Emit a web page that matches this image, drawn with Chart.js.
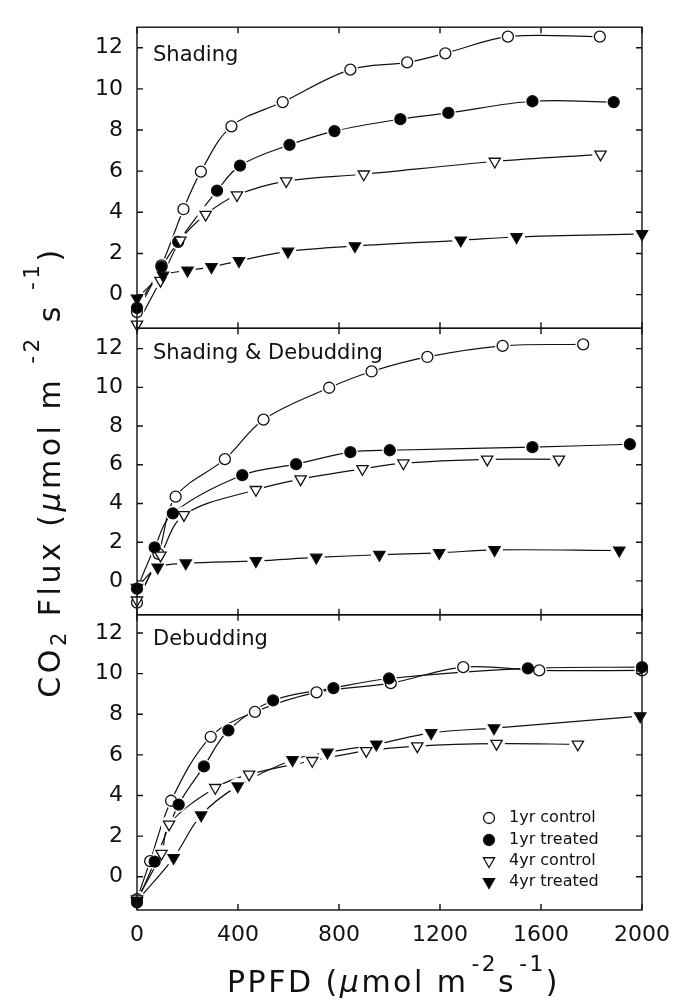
<!DOCTYPE html>
<html lang="en">
<head>
  <meta charset="UTF-8">
  <title>CO2 flux vs PPFD</title>
  <script src="https://cdn.jsdelivr.net/npm/chart.js"></script>
  <style>
    body {
      margin: 0;
      background: #fff;
    }
    .wrap {
      position: relative;
      width: 690px;
      height: 1000px;
    }
    canvas {
      position: absolute;
      left: 0;
      top: 0;
    }
    .title {
      position: absolute;
      font-family: 'DejaVu Sans', sans-serif;
      font-size: 30px;
      line-height: 30px;
      color: #111;
      white-space: nowrap;
      letter-spacing: 2.5px;
    }
    .title sup {
      font-size: 0.72em;
      vertical-align: 0.95em;
      line-height: 0;
    }
    .title sub {
      font-size: 0.7em;
      vertical-align: -0.3em;
      line-height: 0;
    }
    #xtitle {
      left: 227px;
      top: 964px;
    }
    #xtitle sup {
      padding-left: 3px;
    }
    #ytitle {
      left: -253px;
      top: 457px;
      width: 600px;
      height: 30px;
      text-align: center;
      transform: rotate(-90deg);
      letter-spacing: 3.5px;
    }
  </style>
</head>
<body>

  <div class="wrap">
    <canvas id="fluxChart" width="690" height="1000"></canvas>
    <div class="title" id="ytitle">CO<sub>2</sub> Flux (<i>μ</i>mol m <sup>-2</sup> s <sup>-1</sup>)</div>
    <div class="title" id="xtitle">PPFD (<i>μ</i>mol m<sup>-2</sup>s<sup>-1</sup>)</div>
  </div>

  <script>
    // Axis ticks
    const xTicks = [0, 400, 800, 1200, 1600, 2000];
    const yTicks = [0, 2, 4, 6, 8, 10, 12];

    const seriesNames = ['1yr control', '1yr treated', '4yr control', '4yr treated'];
    const panelNames = ['Shading', 'Shading & Debudding', 'Debudding'];

    // Shading
    const sh1cX = [0, 97, 184, 253, 374, 577, 845, 1070, 1221, 1469, 1833];
    const sh1cY = [-0.85, 1.42, 4.15, 5.98, 8.18, 9.36, 10.94, 11.29, 11.73, 12.54, 12.54];
    const sh1tX = [0, 97, 163, 317, 408, 604, 782, 1043, 1233, 1566, 1888];
    const sh1tY = [-0.65, 1.34, 2.56, 5.05, 6.27, 7.28, 7.95, 8.53, 8.83, 9.40, 9.36];
    const sh4cX = [0, 93, 172, 272, 396, 591, 898, 1417, 1836];
    const sh4cY = [-1.45, 0.68, 2.64, 3.89, 4.84, 5.52, 5.85, 6.47, 6.82];
    const sh4tX = [0, 103, 200, 295, 404, 598, 863, 1282, 1503, 2000];
    const sh4tY = [-0.18, 0.93, 1.17, 1.34, 1.64, 2.10, 2.36, 2.64, 2.80, 2.95];

    // Shading & Debudding
    const sd1cX = [0, 85, 153, 348, 501, 761, 929, 1150, 1448, 1767];
    const sd1cY = [-1.12, 1.40, 4.35, 6.29, 8.33, 9.98, 10.82, 11.57, 12.14, 12.22];
    const sd1tX = [0, 70, 142, 417, 630, 845, 1001, 1566, 1952];
    const sd1tY = [-0.40, 1.73, 3.49, 5.46, 6.03, 6.65, 6.75, 6.91, 7.06];
    const sd4cX = [0, 93, 186, 471, 648, 893, 1055, 1387, 1671];
    const sd4cY = [-1.00, 1.32, 3.41, 4.71, 5.26, 5.79, 6.08, 6.28, 6.28];
    const sd4tX = [0, 82, 193, 471, 710, 960, 1197, 1416, 1910];
    const sd4tY = [-0.35, 0.70, 0.91, 1.03, 1.21, 1.35, 1.45, 1.60, 1.57];

    // Debudding
    const db1cX = [0, 52, 135, 292, 467, 711, 1005, 1292, 1593, 2000];
    const db1cY = [-1.11, 0.77, 3.74, 6.89, 8.12, 9.08, 9.53, 10.32, 10.16, 10.16];
    const db1tX = [0, 70, 165, 265, 362, 539, 778, 998, 1548, 2000];
    const db1tY = [-1.27, 0.74, 3.55, 5.43, 7.21, 8.68, 9.29, 9.76, 10.26, 10.32];
    const db4cX = [0, 97, 127, 310, 444, 694, 908, 1110, 1424, 1746];
    const db4cY = [-1.10, 1.14, 2.58, 4.38, 5.04, 5.71, 6.20, 6.43, 6.55, 6.52];
    const db4tX = [0, 145, 254, 399, 616, 754, 948, 1165, 1414, 1993];
    const db4tY = [-1.19, 0.93, 3.03, 4.46, 5.75, 6.12, 6.52, 7.08, 7.32, 7.91];

    const panels = [
      { id: 'yTop', series: [[sh1cX, sh1cY], [sh1tX, sh1tY], [sh4cX, sh4cY], [sh4tX, sh4tY]] },
      { id: 'yMid', series: [[sd1cX, sd1cY], [sd1tX, sd1tY], [sd4cX, sd4cY], [sd4tX, sd4tY]] },
      { id: 'yBot', series: [[db1cX, db1cY], [db1tX, db1tY], [db4cX, db4cY], [db4tX, db4tY]] }
    ];

    // marker look per series
    const markers = [
      { style: 'circle', fill: '#fff', r: 5.5, rot: 0 },
      { style: 'circle', fill: '#000', r: 5.5, rot: 0 },
      { style: 'triangle', fill: '#fff', r: 6.5, rot: 180 },
      { style: 'triangle', fill: '#000', r: 6.5, rot: 180 }
    ];

    const font = 'DejaVu Sans';
    const ink = '#111';

    const datasets = [];
    panels.forEach((p, n) => {
      p.series.forEach(([xs, ys], k) => {
        const m = markers[k];
        datasets.push({
          label: panelNames[n] + ' ' + seriesNames[k],
          data: xs.map((x, i) => ({ x: x, y: ys[i] })),
          yAxisID: p.id,
          xAxisID: 'x',
          borderColor: ink,
          borderWidth: 1.2,
          tension: 0.35,
          fill: false,
          pointStyle: m.style,
          rotation: m.rot,
          pointRadius: m.r,
          pointBackgroundColor: m.fill,
          pointBorderColor: ink,
          pointBorderWidth: 1.3
        });
      });
    });

    function drawMarker(ctx, m, x, y) {
      ctx.beginPath();
      if (m.style === 'circle') {
        ctx.arc(x, y, m.r, 0, Math.PI * 2);
      } else {
        const s = Math.sin(Math.PI / 3) * m.r;
        ctx.moveTo(x, y + m.r);
        ctx.lineTo(x - s, y - m.r / 2);
        ctx.lineTo(x + s, y - m.r / 2);
      }
      ctx.closePath();
      ctx.fillStyle = m.fill;
      ctx.fill();
      ctx.lineWidth = 1.3;
      ctx.strokeStyle = ink;
      ctx.stroke();
    }

    // frames, inward ticks, panel names, legend; white halo round markers
    const panelPlugin = {
      id: 'panelFrames',
      afterDatasetsDraw(chart) {
        const ctx = chart.ctx;
        const area = chart.chartArea;
        const xs = chart.scales.x;

        ctx.save();
        ctx.fillStyle = '#fff';
        chart.data.datasets.forEach((d, i) => {
          chart.getDatasetMeta(i).data.forEach(pt => {
            ctx.beginPath();
            ctx.arc(pt.x, pt.y, pt.options.radius + 2, 0, Math.PI * 2);
            ctx.fill();
          });
        });
        chart.data.datasets.forEach((d, i) => {
          chart.getDatasetMeta(i).data.forEach(pt => pt.draw(ctx, area));
        });
        ctx.restore();

        ctx.save();
        ctx.strokeStyle = ink;
        ctx.lineWidth = 1.4;
        panels.forEach((p, k) => {
          const ys = chart.scales[p.id];
          ctx.strokeRect(area.left, ys.top, area.right - area.left, ys.bottom - ys.top);
          ctx.beginPath();
          yTicks.forEach(v => {
            const py = ys.getPixelForValue(v);
            ctx.moveTo(area.left, py); ctx.lineTo(area.left + 6, py);
            ctx.moveTo(area.right, py); ctx.lineTo(area.right - 6, py);
          });
          xTicks.forEach(v => {
            const px = xs.getPixelForValue(v);
            ctx.moveTo(px, ys.top); ctx.lineTo(px, ys.top + 6);
            ctx.moveTo(px, ys.bottom); ctx.lineTo(px, ys.bottom - 6);
          });
          ctx.stroke();

          ctx.fillStyle = ink;
          ctx.font = '21px "' + font + '"';
          ctx.textBaseline = 'middle';
          ctx.textAlign = 'left';
          ctx.fillText(panelNames[k], area.left + 16, ys.top + (k === 0 ? 28 : 25));
        });

        // legend inside the bottom panel
        const yb = chart.scales.yBot;
        const rows = [92, 70, 49, 28];
        ctx.font = '16px "' + font + '"';
        seriesNames.forEach((name, k) => {
          const y = yb.bottom - rows[k];
          drawMarker(ctx, markers[k], 489, y);
          ctx.fillStyle = ink;
          ctx.fillText(name, 509, y);
        });
        ctx.restore();
      }
    };

    function yScale(weight, stackWeight, min, max) {
      return {
        type: 'linear',
        position: 'left',
        stack: 'flux',
        stackWeight: stackWeight,
        weight: weight,
        min: min,
        max: max,
        afterBuildTicks: s => { s.ticks = yTicks.map(v => ({ value: v })); },
        afterFit: s => { s.width = 137; },
        ticks: {
          callback: v => String(v),
          font: { family: font, size: 22 },
          color: ink,
          padding: 14,
          autoSkip: false
        },
        grid: { display: false, drawTicks: false },
        border: { display: false }
      };
    }

    new Chart(document.getElementById('fluxChart'), {
      type: 'line',
      data: { datasets: datasets },
      options: {
        responsive: false,
        animation: false,
        devicePixelRatio: 1,
        layout: { padding: { left: 0, right: 48, top: 7, bottom: 0 } },
        plugins: {
          legend: { display: false },
          tooltip: { enabled: false }
        },
        scales: {
          x: {
            type: 'linear',
            position: 'bottom',
            min: 0,
            max: 2000,
            afterBuildTicks: s => { s.ticks = xTicks.map(v => ({ value: v })); },
            afterFit: s => { s.height = 90; },
            ticks: {
              callback: v => String(v),
              font: { family: font, size: 22 },
              color: ink,
              padding: 12,
              maxRotation: 0,
              autoSkip: false
            },
            grid: { display: false, drawTicks: false },
            border: { display: false }
          },
          yTop: yScale(3, 308, -1.64, 13),
          yMid: yScale(2, 293, -1.75, 13.05),
          yBot: yScale(1, 302, -1.64, 12.9)
        }
      },
      plugins: [panelPlugin]
    });
  </script>

</body>
</html>
